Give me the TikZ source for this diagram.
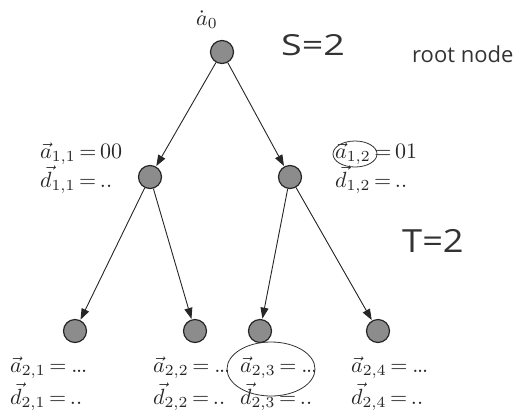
\documentclass[tikz,border=0pt]{standalone}
\usepackage{fontspec}
\newfontfamily\lblfont{Open Sans}
\usetikzlibrary{arrows.meta}
\newcommand{\mylbl}[1]{\scalebox{2.2}{$#1$}}
\newcommand{\myeq}{\mkern3mu{=}\mkern3mu}
\newcommand{\mydots}{\mkern1mu{.}\mkern-1mu{.}\mkern-1mu{.}}
\begin{document}
\begin{tikzpicture}[x=1pt,y=-1pt,
  state/.style={circle,draw=black!85,line width=1.2pt,fill=black!45,minimum size=23pt,inner sep=0pt},
  edge/.style={-{Triangle[length=11pt,width=8pt]},line width=0.9pt,draw=black!85,shorten >=0.5pt},
  lbl/.style={anchor=base west,inner sep=0pt,text=black!85},
  big/.style={anchor=base west,inner sep=0pt,text=black!80,font=\lblfont\fontsize{29}{32}\selectfont},
  note/.style={anchor=base west,inner sep=0pt,text=black!80,font=\lblfont\fontsize{22}{25}\selectfont},
  ring/.style={draw=black!80,line width=0.8pt},
]
\useasboundingbox (0,0) rectangle (524,416);
% nodes
\node[state] (r) at (222,52) {};
\node[state] (n11) at (150,177) {};
\node[state] (n12) at (290,177) {};
\node[state] (n21) at (75,331) {};
\node[state] (n22) at (195,331) {};
\node[state] (n23) at (260,331) {};
\node[state] (n24) at (378,331) {};
% edges
\draw[edge] (r) -- (n11);
\draw[edge] (r) -- (n12);
\draw[edge] (n11) -- (n21);
\draw[edge] (n11) -- (n22);
\draw[edge] (n12) -- (n23);
\draw[edge] (n12) -- (n24);
% labels
\node[lbl] (l0) at (196,25) {\mylbl{\dot{a}_{0}}};
\node[big] (s) at (281,55) {\scalebox{1.3}[1]{S=2}};
\node[note] (rn) at (412,62) {root node};
\node[big] (t) at (402,252) {\scalebox{1.25}[1.1]{T=2}};
\node[lbl] (a11) at (40,158) {\mylbl{\vec{a}_{1,1}\myeq\mathrm{00}}};
\node[lbl] (d11) at (40,187) {\mylbl{\vec{d}_{1,1}\myeq..}};
\node[lbl] (a12) at (335,158) {\mylbl{\vec{a}_{1,2}\myeq\mathrm{01}}};
\node[lbl] (d12) at (335,187) {\mylbl{\vec{d}_{1,2}\myeq..}};
\node[lbl] (a21) at (10,372) {\mylbl{\vec{a}_{2,1}\myeq\mydots}};
\node[lbl] (d21) at (10,404) {\mylbl{\vec{d}_{2,1}\myeq..}};
\node[lbl] (a22) at (153,372) {\mylbl{\vec{a}_{2,2}\myeq\mydots}};
\node[lbl] (d22) at (153,404) {\mylbl{\vec{d}_{2,2}\myeq..}};
\node[lbl] (a23) at (240,372) {\mylbl{\vec{a}_{2,3}\myeq\mydots}};
\node[lbl] (d23) at (240,404) {\mylbl{\vec{d}_{2,3}\myeq..}};
\node[lbl] (a24) at (351,372) {\mylbl{\vec{a}_{2,4}\myeq\mydots}};
\node[lbl] (d24) at (351,404) {\mylbl{\vec{d}_{2,4}\myeq..}};
% rings
\draw[ring] (355,154) ellipse [x radius=22, y radius=13];
\draw[ring] (271,369) ellipse [x radius=44, y radius=27];
\end{tikzpicture}
\end{document}
